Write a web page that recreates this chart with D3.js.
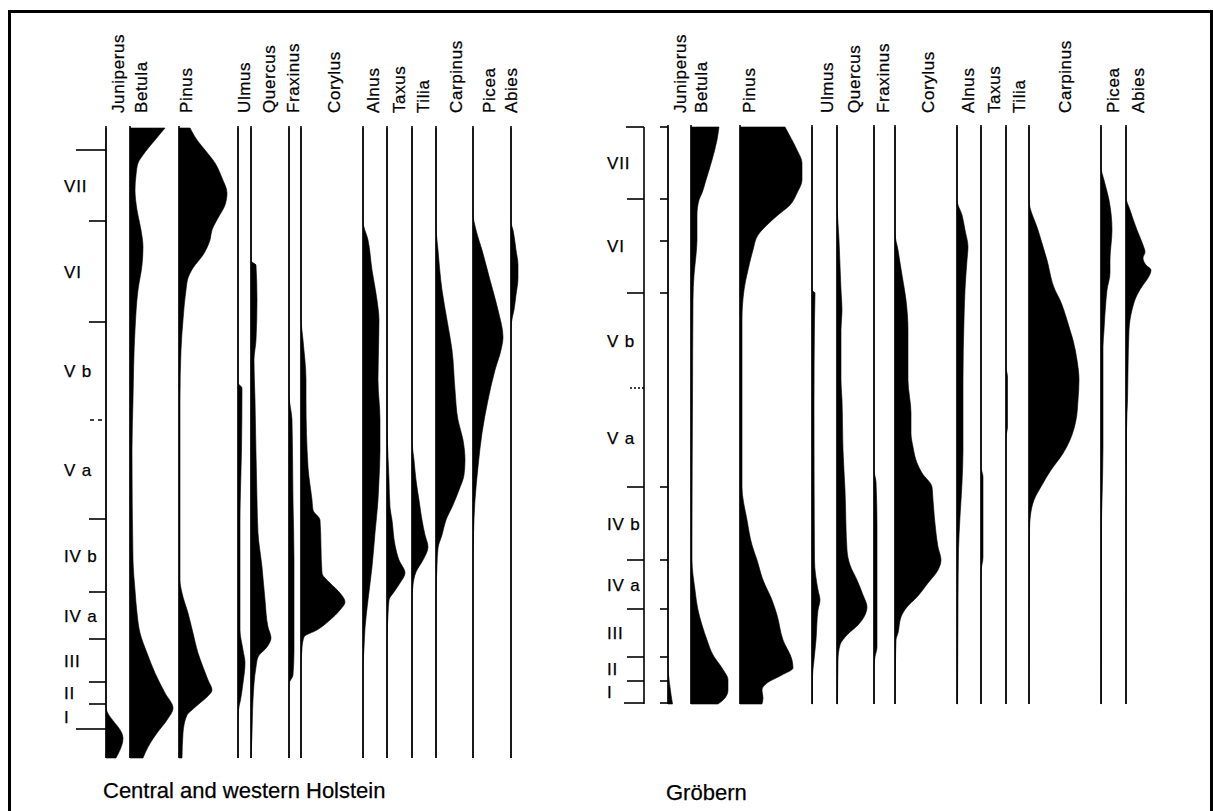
<!DOCTYPE html>
<html lang="en">
<head>
<meta charset="utf-8">
<script src="https://cdnjs.cloudflare.com/ajax/libs/d3/7.8.5/d3.min.js"></script>
<style>
  body { margin: 0; background: #fff; }
  text { font-family: "Liberation Sans", Arial, sans-serif; fill: #000; stroke: #000; stroke-width: 0.25; }
  .taxon { font-size: 17px; letter-spacing: 0.6px; }
  .zone { font-size: 17px; letter-spacing: 0.8px; }
  .site { font-size: 22px; }
  .base, .tick { stroke: #000; stroke-width: 1.6; fill: none; }
  .curve { fill: #000; stroke: #000; stroke-width: 0.6; }
</style>
</head>
<body>
<script>

///////// data: pollen curves as [depth, percent] pairs

var taxa = ["Juniperus", "Betula", "Pinus", "Ulmus", "Quercus", "Fraxinus", "Corylus",
            "Alnus", "Taxus", "Tilia", "Carpinus", "Picea", "Abies"];
var zoneNames = ["VII", "VI", "V b", "V a", "IV b", "IV a", "III", "II", "I"];

// Central and western Holstein (depth 0..630)
var holsteinJuniperus = [[0,0],[579,0],[610,34],[630,20]];
var holsteinBetula = [[0,70],[12,50],[27,26],[35,16],[47,12],[62,10],[82,14],[102,22],[119,26],[137,24],[162,16],[202,10],[272,6],[322,4],[432,6],[462,10],[485,14],[505,20],[525,34],[545,50],[565,70],[580,86],[592,74],[605,54],[619,36],[630,26]];
var holsteinPinus = [[0,22],[12,36],[22,52],[35,72],[50,86],[65,96],[77,92],[90,78],[102,66],[112,62],[127,48],[140,28],[150,18],[162,14],[192,8],[222,4],[272,2],[372,2],[452,2],[465,6],[485,18],[505,28],[525,38],[539,48],[552,58],[562,66],[569,56],[575,42],[582,26],[587,16],[605,8],[630,6]];
var holsteinUlmus = [[0,0],[255,0],[260,8],[322,7],[392,4],[502,4],[522,10],[535,14],[555,10],[572,5],[582,1],[600,0],[630,0]];
var holsteinQuercus = [[0,0],[133,0],[137,10],[172,12],[212,10],[232,6],[272,8],[372,12],[405,14],[439,22],[472,28],[499,34],[510,40],[519,32],[529,14],[539,10],[572,4],[605,2],[630,0]];
var holsteinFraxinus = [[0,0],[267,0],[292,6],[372,8],[432,10],[522,10],[547,8],[556,0],[630,0]];
var holsteinCorylus = [[0,0],[190,0],[212,4],[252,10],[272,10],[339,14],[372,22],[382,24],[392,38],[445,42],[455,58],[465,78],[474,88],[482,78],[492,58],[502,32],[509,6],[520,2],[540,0],[630,0]];
var holsteinAlnus = [[0,0],[93,0],[112,10],[142,18],[172,28],[192,32],[252,30],[292,34],[322,34],[352,32],[372,30],[405,24],[439,18],[472,10],[500,4],[520,2],[540,0],[630,0]];
var holsteinTaxus = [[0,0],[292,0],[352,4],[379,6],[392,10],[417,16],[432,24],[445,36],[455,26],[464,14],[472,4],[487,2],[512,0],[630,0]];
var holsteinTilia = [[0,0],[312,0],[332,4],[352,8],[372,14],[392,20],[407,26],[419,32],[432,22],[444,8],[457,2],[472,0],[630,0]];
var holsteinCarpinus = [[0,0],[97,0],[122,4],[162,12],[192,22],[222,32],[262,38],[292,44],[312,54],[332,58],[347,56],[362,46],[377,34],[392,20],[407,12],[420,4],[437,2],[472,0],[630,0]];
var holsteinPicea = [[0,0],[85,0],[102,6],[122,18],[152,34],[182,50],[209,60],[222,56],[242,44],[272,30],[305,18],[339,10],[372,4],[405,1],[432,0],[630,0]];
var holsteinAbies = [[0,0],[94,0],[102,4],[122,10],[137,14],[150,14],[167,10],[182,6],[194,1],[202,0],[630,0]];
var holsteinBounds = [22, 93, 194, 292, 391, 464, 511, 554, 576, 601];
var holsteinBoundKind = ["long", "short", "short", "dash", "short", "short", "short", "short", "short", "long"];

// Gröbern (depth 0..577)
var grobernJuniperus = [[0,0],[538,0],[560,4],[577,9]];
var grobernBetula = [[0,56],[13,52],[33,42],[53,30],[66,22],[73,16],[88,12],[113,12],[128,10],[148,6],[173,4],[273,3],[413,2],[433,2],[463,8],[483,14],[498,22],[513,32],[528,44],[541,62],[553,74],[563,74],[571,68],[577,54]];
var grobernPinus = [[0,90],[13,104],[23,114],[36,124],[53,124],[66,114],[78,100],[88,76],[98,54],[108,36],[123,26],[143,16],[163,8],[193,4],[360,4],[393,14],[418,24],[433,34],[453,46],[473,64],[488,74],[513,86],[533,104],[541,106],[548,84],[556,54],[563,44],[571,46],[577,44]];
var grobernUlmus = [[0,0],[163,0],[166,6],[193,5],[280,4],[433,5],[463,12],[473,16],[483,12],[513,8],[533,4],[550,1],[577,1]];
var grobernQuercus = [[0,0],[72,0],[113,4],[163,8],[183,10],[203,8],[253,8],[273,10],[323,12],[363,16],[423,20],[438,26],[453,40],[468,52],[480,60],[488,56],[498,42],[508,20],[518,6],[533,2],[577,1]];
var grobernFraxinus = [[0,0],[343,0],[355,4],[400,6],[520,6],[530,2],[540,0],[577,0]];
var grobernCorylus = [[0,0],[106,0],[123,6],[148,14],[173,22],[203,26],[253,26],[286,32],[306,32],[320,36],[336,44],[346,54],[360,74],[373,76],[406,82],[420,86],[433,92],[443,86],[456,66],[470,44],[480,24],[490,12],[506,6],[513,2],[533,1],[577,0]];
var grobernAlnus = [[0,0],[73,0],[88,10],[103,16],[120,22],[133,20],[163,16],[193,14],[253,12],[323,12],[356,10],[390,6],[423,3],[473,2],[577,1]];
var grobernTaxus = [[0,0],[340,0],[350,4],[430,4],[445,0],[577,0]];
var grobernTilia = [[0,0],[240,0],[250,3],[300,3],[310,0],[577,0]];
var grobernCarpinus = [[0,0],[73,0],[103,18],[133,36],[163,52],[173,62],[193,76],[203,82],[213,88],[233,96],[253,100],[273,98],[293,94],[313,82],[328,66],[343,44],[358,26],[373,10],[388,3],[403,1],[577,0]];
var grobernPicea = [[0,0],[40,0],[53,6],[73,16],[103,22],[133,18],[146,18],[163,12],[173,10],[203,6],[220,4],[320,4],[373,2],[393,1],[577,0.5]];
var grobernAbies = [[0,0],[70,0],[83,8],[103,22],[118,34],[125,38],[131,34],[138,40],[143,50],[151,44],[158,34],[168,22],[183,12],[203,6],[243,4],[273,3],[303,1],[577,0]];
var grobernBounds = [0, 72, 166, 261, 360, 433, 482, 530, 554, 576];
var grobernBoundKind = ["top", "short", "short", "dot", "short", "short", "short", "short", "short", "bottom"];
var grobernSubTicks = [114];

///////// layout

var holsteinBaseX = [106, 130, 179, 238, 251, 289, 301, 363, 387, 412, 436, 473, 511];
var holsteinLabelX = [112, 135, 180, 238, 263, 287, 328, 367, 393, 417, 450, 483, 505];
var grobernBaseX = [668, 691, 740, 812, 837, 874, 895, 957, 981, 1006, 1029, 1101, 1126];
var grobernLabelX = [674, 695, 743, 821, 848, 877, 922, 962, 988, 1013, 1059, 1107, 1132];
var tickLen = {long: 30, short: 17, dash: 16, top: 18, bottom: 20, dot: 14};

var panels = [
  {
    name: "Central and western Holstein", nameX: 103, nameY: 798,
    depth: 630, top: 128, bottom: 758, axisX: 106, zoneX: 64,
    baseX: holsteinBaseX, labelX: holsteinLabelX,
    curves: [holsteinJuniperus, holsteinBetula, holsteinPinus, holsteinUlmus, holsteinQuercus,
             holsteinFraxinus, holsteinCorylus, holsteinAlnus, holsteinTaxus, holsteinTilia,
             holsteinCarpinus, holsteinPicea, holsteinAbies],
    bounds: holsteinBounds, kinds: holsteinBoundKind, subTicks: []
  },
  {
    name: "Gröbern", nameX: 666, nameY: 800,
    depth: 577, top: 127, bottom: 704, axisX: 644, zoneX: 607,
    baseX: grobernBaseX, labelX: grobernLabelX,
    curves: [grobernJuniperus, grobernBetula, grobernPinus, grobernUlmus, grobernQuercus,
             grobernFraxinus, grobernCorylus, grobernAlnus, grobernTaxus, grobernTilia,
             grobernCarpinus, grobernPicea, grobernAbies],
    bounds: grobernBounds, kinds: grobernBoundKind, subTicks: grobernSubTicks
  }
];

var W = 1213, H = 811;
var svg = d3.select("body").append("svg")
    .attr("width", W)
    .attr("height", H);

// frame
svg.append("path")
    .attr("d", "M9.5," + (H + 10) + "V11.5H1211.5V" + (H + 10))
    .attr("fill", "none")
    .attr("stroke", "#000")
    .attr("stroke-width", 3);

var pct = d3.scaleLinear().domain([0, 100]).range([0, 50]);

panels.forEach(function(p) {
  var y = d3.scaleLinear().domain([0, p.depth]).range([p.top, p.bottom]);
  var g = svg.append("g");

  // filled curves
  p.curves.forEach(function(c, i) {
    var bx = p.baseX[i];
    var area = d3.area()
        .curve(d3.curveMonotoneY)
        .y(function(d) { return y(d[0]); })
        .x0(bx)
        .x1(function(d) { return bx + pct(d[1]); });
    g.append("path").attr("class", "curve").attr("d", area(c));
  });

  // baselines
  g.selectAll(".base")
      .data(p.baseX)
      .join("line")
      .attr("class", "base")
      .attr("x1", function(d) { return d; })
      .attr("x2", function(d) { return d; })
      .attr("y1", y(0) - 2)
      .attr("y2", y(p.depth));

  // depth axis (separate for Gröbern)
  if (p.axisX !== p.baseX[0]) {
    g.append("line").attr("class", "base")
        .attr("x1", p.axisX).attr("x2", p.axisX)
        .attr("y1", y(0)).attr("y2", y(p.depth));
    // small ticks on the Juniperus line
    var minor = p.bounds.filter(function(b, i) { return p.kinds[i] !== "dot"; }).concat(p.subTicks);
    g.selectAll(".minor")
        .data(minor)
        .join("line")
        .attr("class", "tick")
        .attr("x1", p.baseX[0] - 8).attr("x2", p.baseX[0])
        .attr("y1", function(d) { return y(d); })
        .attr("y2", function(d) { return y(d); });
  }

  // zone boundary ticks
  g.selectAll(".zt")
      .data(p.bounds)
      .join("line")
      .attr("class", "tick")
      .attr("x1", function(d, i) { return p.axisX - tickLen[p.kinds[i]]; })
      .attr("x2", p.axisX)
      .attr("y1", function(d) { return y(d); })
      .attr("y2", function(d) { return y(d); })
      .attr("stroke-dasharray", function(d, i) {
        return p.kinds[i] === "dash" ? "4,4" : (p.kinds[i] === "dot" ? "2,2" : null);
      });

  // zone labels at the middle of each zone
  g.selectAll(".zone")
      .data(zoneNames)
      .join("text")
      .attr("class", "zone")
      .attr("x", p.zoneX)
      .attr("y", function(d, i) { return y((p.bounds[i] + p.bounds[i + 1]) / 2); })
      .attr("dy", "0.36em")
      .text(function(d) { return d; });

  // taxon headers
  g.selectAll(".taxon")
      .data(taxa)
      .join("text")
      .attr("class", "taxon")
      .attr("transform", function(d, i) {
        return "translate(" + (p.labelX[i] + 12) + ",113) rotate(-90)";
      })
      .text(function(d) { return d; });

  g.append("text")
      .attr("class", "site")
      .attr("x", p.nameX)
      .attr("y", p.nameY)
      .text(p.name);
});

</script>
</body>
</html>
